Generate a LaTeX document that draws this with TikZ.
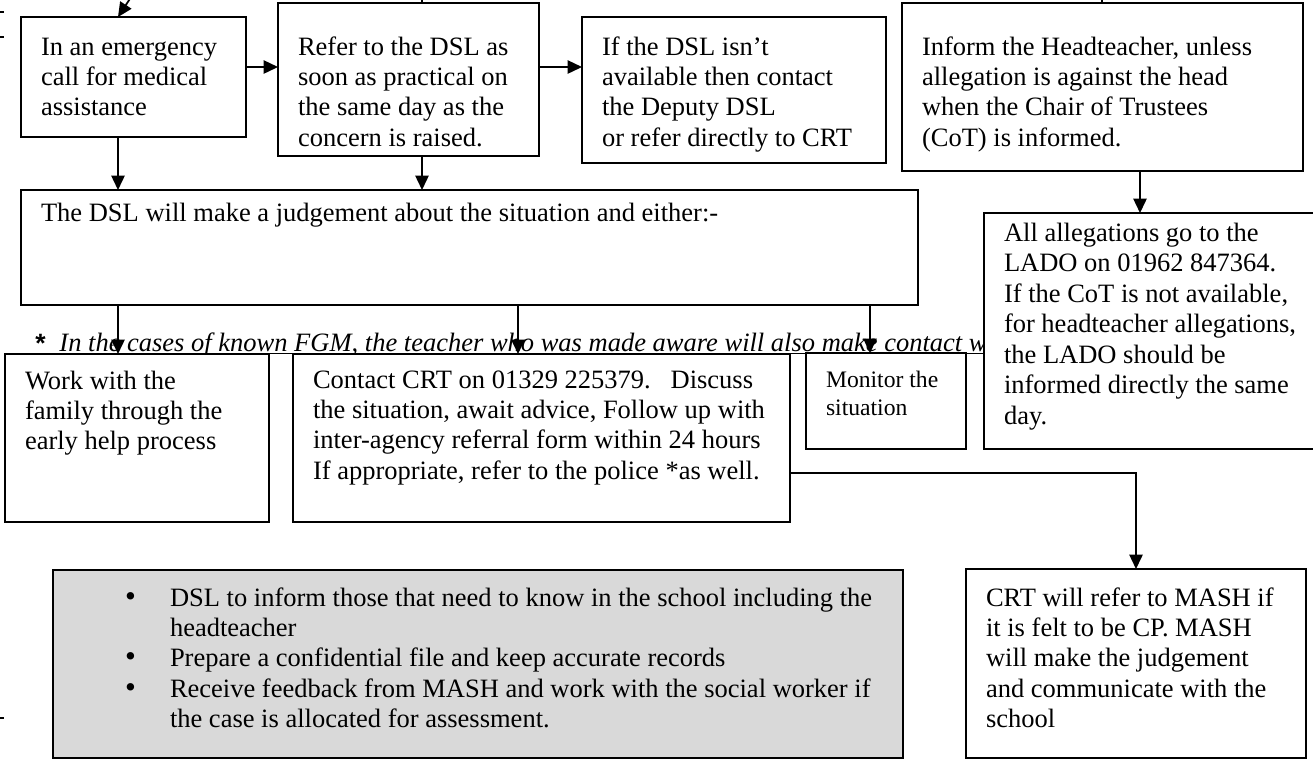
\documentclass[tikz,border=0pt]{standalone}
\usepackage{fontspec}
\setmainfont{Liberation Serif}
\setsansfont{Liberation Sans}
\usetikzlibrary{arrows.meta,calc}
\newlength{\pu}
\setlength{\pu}{0.4528pt}
\definecolor{boxgrey}{RGB}{217,217,217}
% text of a box: outer width, outer height, drop of the first baseline, text
\newcommand{\boxtext}[4]{\parbox[t][\dimexpr #2\pu-20\pu\relax][t]{\dimexpr #1\pu-40\pu\relax}{\raggedright\rule{0pt}{\dimexpr #3\pu-10\pu\relax}#4}}
% a bullet of the grey box
\newcommand{\blt}{\hspace*{52\pu}\makebox[45\pu][l]{\fontsize{14}{14}\selectfont\textbullet}}

\begin{document}
\begin{tikzpicture}[x={(0.4528pt,0)},y={(0,-0.4528pt)}]
\useasboundingbox (0,0) rectangle (1313,760);

% This determines how the boxes and arrows will look.
\tikzstyle{box}=[draw,line width=0.8pt,fill=white,anchor=north west,
inner xsep=20\pu,inner ysep=10\pu,outer sep=0pt,font=\fontsize{12}{13.8}\selectfont]
\tikzstyle{arr}=[line width=0.8pt,-{Triangle[length=6.5pt,width=6pt]}]

% This draws the top row.
\node[box] (emerg) at (21,17) {\boxtext{225}{120}{38}{In an emergency\\call for medical\\assistance}};
\node[box] (refer) at (278,3) {\boxtext{261}{153}{52}{Refer to the DSL as\\soon as practical on\\the same day as the\\concern is raised.}};
\node[box] (deputy) at (582,17) {\boxtext{304}{146}{38}{If the DSL isn’t\\available then contact\\the Deputy DSL\\or refer directly to CRT}};
\node[box] (head) at (902,3) {\boxtext{401}{168}{52}{Inform the Headteacher, unless\\allegation is against the head\\when the Chair of Trustees\\(CoT) is informed.}};

% This draws the judgement box.
\node[box] (judge) at (21,190) {\boxtext{897}{115}{31}{The DSL will make a judgement about the situation and either:-}};

% This draws the FGM note.
\node[anchor=base west,inner sep=0pt,font=\sffamily\bfseries\fontsize{12}{13.8}\selectfont] (star) at (35,352) {*};
\node[anchor=base west,inner sep=0pt,font=\fontsize{12}{13.8}\selectfont\itshape] (fgm) at (59,351) {In the cases of known FGM, the teacher who was made aware will also make contact w};
\draw[line width=0.5pt] ([yshift=-1pt]fgm.base west) -- ([yshift=-1pt]fgm.base east);

% This draws the three choices and the LADO box.
\node[box] (early) at (5,354) {\boxtext{264}{168}{35}{Work with the\\family through the\\early help process}};
\node[box] (contact) at (293,354) {\boxtext{497}{168}{34}{Contact CRT on 01329 225379.\ \ \ Discuss\\the situation, await advice, Follow up with\\inter-agency referral form within 24 hours\\If appropriate, refer to the police *as well.}};
\node[box,font=\fontsize{10.7}{12.7}\selectfont] (monitor) at (806,353) {\boxtext{160}{96}{34}{Monitor the\\situation}};
\node[box] (lado) at (984,213) {\boxtext{332}{236}{28}{All allegations go to the\\LADO on 01962 847364.\\If the CoT is not available,\\for headteacher allegations,\\the LADO should be\\informed directly the same\\day.}};

% This draws the bottom row.
\node[box,fill=boxgrey] (records) at (53,570) {\boxtext{850}{188}{36}{%
\blt DSL to inform those that need to know in the school including the\\
\hspace*{97\pu}headteacher\\
\blt Prepare a confidential file and keep accurate records\\
\blt Receive feedback from MASH and work with the social worker if\\
\hspace*{97\pu}the case is allocated for assessment.}};
\node[box] (mash) at (966,569) {\boxtext{340}{189}{37}{CRT will refer to MASH if\\it is felt to be CP. MASH\\will make the judgement\\and communicate with the\\school}};

% This fixes where the arrows run.
\coordinate (colA) at (118,0);
\coordinate (colB) at (422,0);
\coordinate (colG) at (518,0);
\coordinate (colH) at (870,0);
\coordinate (colL) at (1140,0);
\coordinate (colM) at (1136,0);
\coordinate (rowT) at (0,67);
\coordinate (rowC) at (0,473);
\coordinate (topA) at (137,-12);
\coordinate (topB) at (422,-12);
\coordinate (topD) at (1102,-12);

% This draws the arrows.
\draw[arr] (topA) -- (emerg.north -| colA);
\draw[line width=0.8pt] (topB) -- (refer.north -| colB);
\draw[line width=0.8pt] (topD) -- (head.north -| topD);
\draw[arr] (emerg.east |- rowT) -- (refer.west |- rowT);
\draw[arr] (refer.east |- rowT) -- (deputy.west |- rowT);
\draw[arr] (emerg.south -| colA) -- (judge.north -| colA);
\draw[arr] (refer.south -| colB) -- (judge.north -| colB);
\draw[arr] (judge.south -| colA) -- (early.north -| colA);
\draw[arr] (judge.south -| colG) -- (contact.north -| colG);
\draw[arr] (judge.south -| colH) -- (monitor.north -| colH);
\draw[arr] (head.south -| colL) -- (lado.north -| colL);
\draw[arr] (contact.east |- rowC) -| (mash.north -| colM);

% This draws the cut off marks at the left edge.
\draw[line width=0.6pt] (0,12) -- (4,12);
\draw[line width=0.6pt] (0,37) -- (4,37);
\draw[line width=0.6pt] (0,718) -- (4,718);
\end{tikzpicture}
\end{document}
